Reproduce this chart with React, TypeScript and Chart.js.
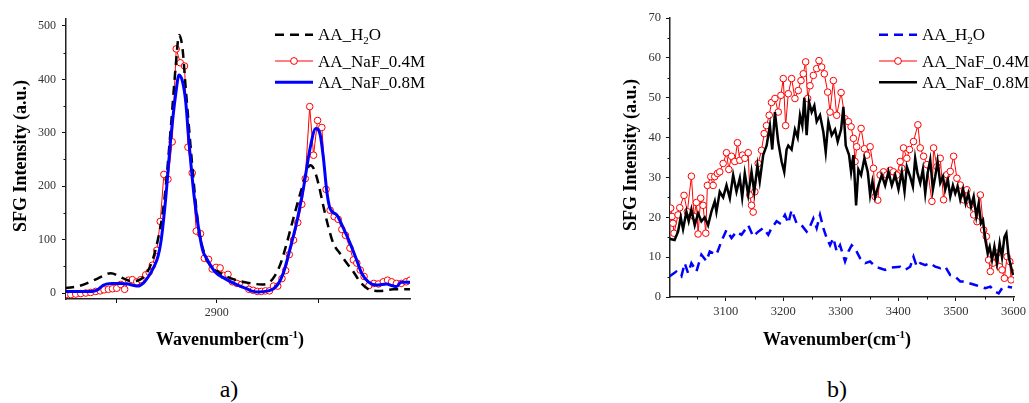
import React, { useEffect, useRef } from 'react';
import { Chart, registerables } from 'chart.js';

Chart.register(...registerables);

const FONT = '"Liberation Serif", "Times New Roman", serif';

type Pt = [number, number];

// ---------- Panel a) : C-H stretching region ----------
const h2oA: Pt[] = [
  [2825, 9], [2832.7, 14], [2841, 27], [2847.5, 37], [2854, 27], [2858, 22], [2862, 25], [2865.6, 39],
  [2869.8, 83], [2873.9, 170], [2877.2, 308], [2879.7, 427], [2881.3, 483], [2883, 458], [2884.6, 383],
  [2887.1, 270], [2889.5, 170], [2891.5, 110], [2894.2, 70], [2897, 50], [2900.8, 39], [2907.4, 27],
  [2915.7, 19], [2922.2, 16], [2926, 20], [2928.8, 33], [2931.5, 55], [2933.8, 83], [2938.7, 152],
  [2942, 196], [2946.1, 239], [2948, 232], [2950.2, 205], [2952.7, 162], [2955.1, 124], [2957.6, 93],
  [2960.9, 74], [2964.2, 56], [2967.5, 40], [2970.8, 21], [2975.7, 6], [2980.7, 4], [2987.3, 7], [2995.5, 7],
];

const naf04A: Pt[] = [
  [2825.3, -3], [2827.8, -3], [2830.2, -2], [2832.7, -1], [2835.2, 0], [2837.6, 1], [2840.1, 3], [2842.3, 4],
  [2844.2, 6], [2846.4, 7], [2848.4, 8], [2850.5, 9], [2852.5, 16], [2854.4, 7], [2856.3, 24], [2858.2, 25],
  [2860.4, 21], [2862.4, 25], [2864.8, 34], [2866.5, 39], [2868.1, 52], [2870.3, 80], [2872, 134],
  [2873.8, 222], [2875.8, 213], [2877.9, 283], [2879.9, 457], [2881.9, 431], [2884, 425], [2885.7, 273],
  [2887.8, 225], [2889.8, 116], [2891.9, 111], [2893.8, 65], [2895.9, 63], [2897.7, 45], [2899.6, 48],
  [2901.6, 47], [2903.3, 33], [2905.5, 35], [2907.7, 21], [2909.9, 18], [2912.2, 16], [2914, 14],
  [2915.8, 7], [2918, 5], [2920, 3], [2922, 3], [2924, 4], [2926, 4], [2928, 13], [2930.1, 13],
  [2932.2, 27], [2934, 42], [2935.8, 72], [2937.9, 99], [2940, 132], [2942, 166], [2943.7, 214],
  [2945.9, 349], [2947.8, 258], [2949.8, 323], [2951.9, 310], [2954, 194], [2956, 155], [2958, 143],
  [2960, 138], [2961.8, 119], [2963.6, 108], [2965.8, 84], [2967.5, 62], [2969.2, 56], [2970.9, 43],
  [2972.8, 31], [2975.2, 14], [2977.6, 18], [2979.9, 17], [2982.3, 21], [2984.4, 24], [2986.4, 21],
  [2988.8, 18], [2991.2, 18], [2993.6, 21], [2995.5, 24],
];

const naf08A: Pt[] = [
  [2825, 3], [2832, 3], [2838, 3], [2841, 6], [2844, 15], [2848, 18], [2852, 18], [2856, 17], [2859, 14],
  [2861, 13], [2864, 20], [2866, 30], [2869, 50], [2871, 70], [2872.5, 100], [2874.7, 177], [2877.2, 289],
  [2879.7, 374], [2881.3, 408], [2883, 396], [2884.6, 358], [2886.2, 283], [2888.7, 183], [2891, 120],
  [2893, 80], [2895, 64], [2899, 40], [2904, 27], [2909, 17], [2914.8, 8], [2917, 4], [2920, 2],
  [2925.5, 4], [2928, 8], [2930.5, 18], [2933, 39], [2936.2, 83], [2939.5, 133], [2942.8, 196],
  [2946.1, 271], [2948.9, 308], [2951.1, 296], [2952.7, 252], [2954.4, 189], [2956, 158], [2959.3, 146],
  [2962.6, 121], [2965.9, 93], [2969.1, 62], [2971.6, 37], [2974.9, 21], [2979, 15], [2984, 17],
  [2986.4, 14], [2988.9, 12], [2991, 20], [2995.5, 20],
];

const ticksAx: number[] = [2900];
const ticksAy: number[] = [0, 100, 200, 300, 400, 500];

// ---------- Panel b) : O-H stretching region ----------
const h2oB: Pt[] = [
  [3002.4, 5.2], [3014, 6.4], [3022.8, 5.2], [3028.6, 8.5], [3034.4, 6], [3040.2, 8.5], [3048.9, 6.4],
  [3057.6, 10.6], [3066.3, 9], [3072.1, 11.4], [3083.7, 10.6], [3092.4, 14], [3101.2, 16.8], [3109.9, 14.8],
  [3118.6, 16.4], [3127.3, 15.6], [3139, 18], [3147.6, 15.2], [3156.3, 16.4], [3165, 17.3], [3173.8, 15.6],
  [3179.5, 17.3], [3188.3, 19], [3194, 18.5], [3202.8, 20.6], [3208.6, 18.5], [3214.4, 21.8], [3223.1, 18.5],
  [3231.8, 18], [3240.5, 16.4], [3246.3, 17.7], [3252.2, 19.7], [3258, 17.3], [3263.8, 20.6], [3269.6, 17.3],
  [3275.4, 14.8], [3281.2, 13], [3287, 14.8], [3292.8, 11.4], [3298.6, 13], [3307.3, 8.9], [3313.1, 11.4],
  [3318.9, 13], [3324.7, 12.2], [3333.5, 9.7], [3342.2, 8.5], [3350.9, 8.9], [3359.6, 7.7], [3368.3, 7.2],
  [3377, 6.8], [3388.6, 7.4], [3403.1, 7.6], [3411.8, 6.8], [3420.5, 7.6], [3426.3, 10.1], [3432.1, 7.6],
  [3438, 8.5], [3446.7, 8], [3455.4, 8.5], [3464.1, 7.6], [3472.8, 7.2], [3481.5, 7.6], [3490.2, 5.5],
  [3498.9, 5.1], [3507.6, 3.9], [3516.3, 3.9], [3525, 3.4], [3533.7, 3], [3542.5, 2.6], [3551.2, 2.2],
  [3559.9, 2.6], [3568.6, 1.3], [3574.4, 0.9], [3580.2, 2.2], [3588.9, 2.6], [3597.6, 2.4],
];

const naf04B: Pt[] = [
  [3004.2, 22.3], [3006.5, 20.2], [3008.2, 18.5], [3010, 16], [3017, 20.6], [3019.9, 22.4], [3027.4, 25.5],
  [3033.2, 21.4], [3040.2, 30.3], [3044.8, 20.2], [3048.9, 23.7], [3051.8, 15.8], [3056.4, 24.8], [3060.5, 23],
  [3065.2, 16], [3068, 28], [3073.9, 30.2], [3078, 28], [3080.8, 30.2], [3085.5, 31], [3089.5, 31.4],
  [3095.4, 33.5], [3101.2, 36.2], [3105.2, 32], [3109.9, 35.3], [3115.6, 34], [3120.3, 38.7], [3124.4, 34.3],
  [3129, 35.6], [3133.1, 34.8], [3139, 36.2], [3141.8, 25.6], [3144.7, 23], [3147.6, 21.3], [3150.5, 26.4],
  [3156.3, 33.5], [3162.1, 36.8], [3166.7, 41], [3170.8, 43], [3175.5, 45.6], [3179.5, 48.8], [3185.4, 49.8],
  [3191.2, 46.4], [3195.8, 50.6], [3199.9, 54.8], [3204, 43], [3208.6, 51], [3214.4, 54.8], [3220.2, 49.8],
  [3226, 51.8], [3230.7, 54.3], [3234.7, 56], [3238.8, 59], [3242.3, 49.8], [3246.4, 53], [3252.2, 55.6],
  [3258, 57.3], [3262, 59.3], [3266.7, 57.7], [3271.3, 56], [3277.1, 51.4], [3281.2, 46.4], [3287, 54.3],
  [3292.8, 45.6], [3300.4, 51.3], [3307.3, 44.7], [3313.1, 44], [3317.8, 42.7], [3321.8, 39.8], [3324.7, 34],
  [3327.6, 37.7], [3335.2, 42.3], [3341, 37.2], [3345.1, 35.6], [3350.9, 37.7], [3356.7, 32.3], [3359.6, 25.2],
  [3364.2, 24.3], [3368.3, 30.6], [3374.1, 31.4], [3379.9, 30.6], [3385.7, 31.8], [3391.5, 31.4], [3397.3, 30.6],
  [3403.1, 34], [3406, 32.3], [3408.9, 37.4], [3414.7, 34.8], [3419.4, 37], [3426.3, 39], [3433.9, 43.2],
  [3438, 37.4], [3443.8, 35.3], [3449.6, 33.2], [3458.3, 24], [3461.2, 37.4], [3467, 32.7], [3472.8, 34.8],
  [3478.6, 24.4], [3484.4, 30.7], [3490.2, 31.5], [3496, 35.3], [3501.8, 29.8], [3507.6, 28.1], [3513.4, 24.4],
  [3519.2, 26.9], [3525, 23.1], [3530.9, 20.6], [3536.7, 18.9], [3542.5, 25.6], [3548.3, 16.8], [3552.9, 15.2],
  [3556.9, 9.3], [3559.9, 6.4], [3564.5, 8.5], [3571.5, 11], [3576.1, 7.6], [3580.2, 6.8], [3584.3, 4.7],
  [3588.9, 10.1], [3593.6, 8.9], [3595.9, 4.3], [3600.5, 7.6],
];

const naf08B: Pt[] = [
  [3002.4, 14.6], [3011, 14.3], [3017, 16.4], [3021.6, 20], [3025.7, 17], [3031.5, 21.4], [3035.5, 19],
  [3040.2, 22], [3046, 18], [3051.8, 21], [3057.6, 19], [3063.4, 20], [3069.2, 18], [3075, 21.4], [3080.8, 24],
  [3083.7, 21.4], [3089.5, 26.4], [3095.4, 25], [3101.2, 28], [3107, 24.8], [3112.8, 30.6], [3118.6, 26.4],
  [3124.4, 29.8], [3128.5, 25], [3133, 31], [3139, 25.6], [3144.7, 31.4], [3149.4, 26.4], [3155, 33],
  [3159, 29], [3165, 35.6], [3171, 38], [3176.7, 43], [3180.7, 37], [3185.4, 46.4], [3191, 39], [3197, 34],
  [3201.6, 31.4], [3205.7, 37], [3208.6, 38], [3214.4, 37], [3220.2, 42], [3224.9, 40], [3229, 45.6],
  [3233, 43], [3236.5, 50], [3240.5, 40.6], [3244.6, 49], [3249.3, 46.4], [3253.9, 48], [3258, 44],
  [3263.8, 45.6], [3269.6, 41.4], [3273.7, 36.4], [3278.3, 44], [3284.1, 40.6], [3289.9, 42], [3294.5, 39],
  [3300.4, 42], [3304.4, 47.7], [3308.5, 38], [3314.3, 35.6], [3317.8, 31.4], [3321.8, 35.6], [3326.5, 23],
  [3330.5, 32], [3335.2, 30.6], [3341, 34.8], [3346.8, 31.4], [3350.9, 25.6], [3354.9, 29], [3359.6, 25],
  [3365.4, 28], [3371.2, 30.6], [3377, 28], [3382.8, 31.4], [3388.6, 28], [3394.4, 30.6], [3400.2, 27],
  [3406, 31.4], [3410.7, 26.5], [3414.7, 32.7], [3420.5, 30.2], [3425.2, 27.7], [3429.2, 34.8], [3433.3, 31],
  [3438, 28.6], [3442.6, 32], [3446.7, 26], [3450.7, 31], [3455.4, 34.4], [3460, 27], [3464, 30.2],
  [3468.1, 34], [3472.8, 28.6], [3477.4, 30.2], [3481.5, 27], [3486.1, 29.4], [3490.2, 25.2], [3494.8, 28],
  [3498.9, 26], [3503, 27.7], [3507.6, 24.4], [3512.3, 27], [3516.9, 23.5], [3521.6, 26], [3526.2, 22.7],
  [3530.9, 25.2], [3535.5, 20.2], [3539.6, 23.5], [3543.6, 18.5], [3547.1, 19.3], [3551.2, 14.3], [3555.2, 11],
  [3558.7, 12.6], [3562.8, 9.3], [3566.9, 12.6], [3571.5, 8.5], [3576.1, 13.5], [3580.2, 10], [3584.3, 15],
  [3587.7, 16], [3591.8, 10], [3595.8, 7.6], [3599.3, 5.5],
];

const ticksBx: number[] = [3100, 3200, 3300, 3400, 3500, 3600];
const ticksBy: number[] = [0, 10, 20, 30, 40, 50, 60, 70];

// ---------- text ----------
type Seg = { t: string; s?: 'sup' | 'sub' };
const xTitleSegs: Seg[] = [{ t: 'Wavenumber(cm' }, { t: '-1', s: 'sup' }, { t: ')' }];
const yTitleSegs: Seg[] = [{ t: 'SFG Intensity (a.u.)' }];
const nameH2O: Seg[] = [{ t: 'AA_H' }, { t: '2', s: 'sub' }, { t: 'O' }];
const name04: Seg[] = [{ t: 'AA_NaF_0.4M' }];
const name08: Seg[] = [{ t: 'AA_NaF_0.8M' }];
const panelLabels = ['a)', 'b)'];

const toXY = (pts: Pt[]) => pts.map(([x, y]) => ({ x, y }));

function segFont(size: number, bold: boolean, s?: string) {
  const sz = s ? Math.round(size * 0.62) : size;
  return `${bold ? 'bold ' : ''}${sz}px ${FONT}`;
}
function drawRich(ctx: CanvasRenderingContext2D, segs: Seg[], x: number, y: number, size: number, bold: boolean, align: 'left' | 'center') {
  let w = 0;
  for (const g of segs) { ctx.font = segFont(size, bold, g.s); w += ctx.measureText(g.t).width; }
  let cx = align === 'center' ? x - w / 2 : x;
  ctx.textAlign = 'left';
  ctx.textBaseline = 'alphabetic';
  for (const g of segs) {
    ctx.font = segFont(size, bold, g.s);
    const dy = g.s === 'sup' ? -size * 0.4 : g.s === 'sub' ? size * 0.22 : 0;
    ctx.fillText(g.t, cx, y + dy);
    cx += ctx.measureText(g.t).width;
  }
}

const minorTicksPlugin = {
  id: 'minorTicks',
  afterDraw(chart: any, _a: any, opts: any) {
    const { ctx } = chart;
    ctx.save();
    ctx.strokeStyle = '#111';
    ctx.lineWidth = 1;
    for (const id of ['x', 'y']) {
      const s = chart.scales[id];
      const step = opts[id + 'Step'];
      const len = opts[id + 'Len'];
      if (!step) continue;
      const start = Math.ceil(s.min / step) * step;
      for (let v = start; v <= s.max + 1e-9; v += step) {
        const r = v / (2 * step);
        if (Math.abs(r - Math.round(r)) < 1e-6) continue;
        const p = Math.round(s.getPixelForValue(v)) + 0.5;
        ctx.beginPath();
        if (id === 'x') { ctx.moveTo(p, s.top); ctx.lineTo(p, s.top + len); }
        else { ctx.moveTo(s.right, p); ctx.lineTo(s.right - len, p); }
        ctx.stroke();
      }
    }
    ctx.restore();
  },
};

const overlayPlugin = {
  id: 'overlay',
  afterDraw(chart: any, _a: any, opts: any) {
    const { ctx, chartArea } = chart;
    ctx.save();
    ctx.fillStyle = '#000';
    drawRich(ctx, xTitleSegs, opts.xTitle[0], opts.xTitle[1], 18, true, 'center');
    ctx.save();
    ctx.translate(opts.yTitle[0], opts.yTitle[1]);
    ctx.rotate(-Math.PI / 2);
    drawRich(ctx, yTitleSegs, 0, 0, 18, true, 'center');
    ctx.restore();
    const lx = chartArea.right - 135;
    opts.items.forEach((it: any, i: number) => {
      const y = opts.rows[i];
      ctx.save();
      ctx.strokeStyle = it.color;
      ctx.lineWidth = it.width;
      ctx.setLineDash(it.dash || []);
      ctx.beginPath();
      ctx.moveTo(lx, y);
      ctx.lineTo(lx + 38, y);
      ctx.stroke();
      ctx.setLineDash([]);
      if (it.circle) {
        ctx.beginPath();
        ctx.arc(lx + 19, y, 3.4, 0, Math.PI * 2);
        ctx.fillStyle = '#fff';
        ctx.fill();
        ctx.lineWidth = 1;
        ctx.stroke();
      }
      ctx.restore();
      ctx.fillStyle = '#000';
      drawRich(ctx, it.segs, lx + 43, y + 5.6, 17, false, 'left');
    });
    ctx.restore();
  },
};

function axisOpts(min: number, max: number, tickVals: number[], size: number, pad: number, fit: (s: any) => void) {
  return {
    type: 'linear' as const,
    min,
    max,
    afterFit: fit,
    afterBuildTicks: (s: any) => { s.ticks = tickVals.map((value) => ({ value })); },
    border: { display: true, color: '#222', width: 1.5 },
    grid: { display: true, drawOnChartArea: false, drawTicks: true, tickLength: 4, tickColor: '#111', tickWidth: 1 },
    ticks: {
      autoSkip: false,
      maxRotation: 0,
      padding: pad,
      color: '#333',
      font: { family: FONT, size },
      callback: (v: any) => String(v),
    },
  };
}

const redSet = (pts: Pt[]) => ({
  data: toXY(pts),
  borderColor: '#ff0000',
  borderWidth: 1,
  pointRadius: 3.3,
  pointBorderWidth: 1,
  pointBorderColor: '#ff0000',
  pointBackgroundColor: '#ffffff',
  tension: 0,
  order: 3,
});

function configA(): any {
  return {
    type: 'line',
    data: {
      datasets: [
        { data: toXY(h2oA), borderColor: '#000', borderWidth: 2.5, borderDash: [9, 6], pointRadius: 0, cubicInterpolationMode: 'monotone', order: 2 },
        redSet(naf04A),
        { data: toXY(naf08A), borderColor: '#0000ff', borderWidth: 3, pointRadius: 0, cubicInterpolationMode: 'monotone', order: 1 },
      ],
    },
    options: {
      responsive: false,
      animation: false,
      events: [],
      layout: { padding: { top: 19, right: 180, left: 0, bottom: 0 } },
      scales: {
        x: axisOpts(2825.4, 2995.5, ticksAx, 12, 3, (s: any) => { s.height = 61; }),
        y: axisOpts(-11.2, 513, ticksAy, 12, 6, (s: any) => { s.width = 66; }),
      },
      plugins: {
        legend: { display: false },
        tooltip: { enabled: false },
        minorTicks: { xStep: 50, xLen: 4, yStep: 50, yLen: 2.5 },
        overlay: {
          xTitle: [230, 345],
          yTitle: [26, 156],
          rows: [34.7, 61, 82.3],
          items: [
            { segs: nameH2O, color: '#000', width: 2.5, dash: [9, 6] },
            { segs: name04, color: '#ff0000', width: 1, circle: true },
            { segs: name08, color: '#0000ff', width: 3 },
          ],
        },
      },
    },
    plugins: [minorTicksPlugin, overlayPlugin],
  };
}

function configB(): any {
  return {
    type: 'line',
    data: {
      datasets: [
        { data: toXY(h2oB), borderColor: '#0000ff', borderWidth: 2.5, borderDash: [9, 6], pointRadius: 0, tension: 0, order: 2 },
        redSet(naf04B),
        { data: toXY(naf08B), borderColor: '#000', borderWidth: 2.5, pointRadius: 0, tension: 0, order: 1 },
      ],
    },
    options: {
      responsive: false,
      animation: false,
      events: [],
      layout: { padding: { top: 18, right: 15, left: 0, bottom: 0 } },
      scales: {
        x: axisOpts(3003, 3601, ticksBx, 12.5, 3, (s: any) => { s.height = 63; }),
        y: axisOpts(0, 70, ticksBy, 12.5, 5, (s: any) => { s.width = 80; }),
      },
      plugins: {
        legend: { display: false },
        tooltip: { enabled: false },
        minorTicks: { xStep: 50, xLen: 2.5, yStep: 5, yLen: 2.5 },
        overlay: {
          xTitle: [247, 345],
          yTitle: [46, 155],
          rows: [34.7, 61, 82.3],
          items: [
            { segs: nameH2O, color: '#0000ff', width: 2.5, dash: [9, 6] },
            { segs: name04, color: '#ff0000', width: 1, circle: true },
            { segs: name08, color: '#000', width: 2.5 },
          ],
        },
      },
    },
    plugins: [minorTicksPlugin, overlayPlugin],
  };
}

function Panel({ make, width, height, left }: { make: () => any; width: number; height: number; left: number }) {
  const ref = useRef<HTMLCanvasElement>(null);
  useEffect(() => {
    const chart = new Chart(ref.current as HTMLCanvasElement, make());
    return () => chart.destroy();
  }, [make]);
  return (
    <canvas
      ref={ref}
      width={width}
      height={height}
      style={{ position: 'absolute', left, top: 0, width, height, display: 'block' }}
    />
  );
}

export default function App() {
  const labelStyle = (x: number): React.CSSProperties => ({
    position: 'absolute',
    left: x,
    top: 377,
    transform: 'translateX(-50%)',
    fontFamily: FONT,
    fontSize: 24,
    lineHeight: '24px',
    color: '#000',
    whiteSpace: 'nowrap',
  });
  return (
    <div style={{ position: 'absolute', left: 0, top: 0, width: 1029, height: 403, background: '#fff', overflow: 'hidden' }}>
      <Panel make={configA} width={590} height={360} left={0} />
      <Panel make={configB} width={439} height={360} left={590} />
      <div style={labelStyle(229)}>{panelLabels[0]}</div>
      <div style={labelStyle(837)}>{panelLabels[1]}</div>
    </div>
  );
}
